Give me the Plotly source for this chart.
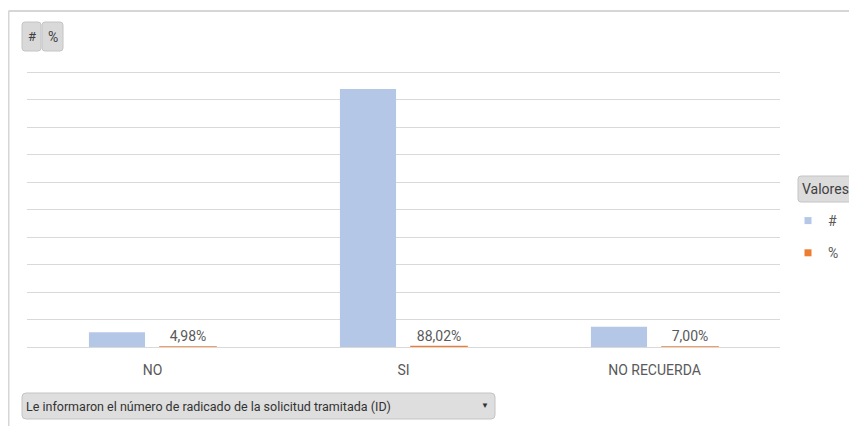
import plotly.graph_objects as go

# ---- data ----
categories = ["NO", "SI", "NO RECUERDA"]
counts = [27, 469, 37]                 # series "#"
shares = [0.0498, 0.8802, 0.0700]      # series "%"
series_names = ["#", "%"]
y_max = 500
y_step = 50
x_title_button = "Le informaron el número de radicado de la solicitud tramitada (ID)"
legend_title = "Valores"

# ---- geometry (page pixel -> paper); page has an 8px body margin ----
OFF = 8
W, H = 849, 418
EXTRA = 4  # headroom above the top gridline so it is drawn
ML, MT = 27 - OFF, 72 - OFF - EXTRA
MR = W - (780 - OFF)
MB = H - (347 - OFF)
PW, PH = W - ML - MR, H - MT - MB
y_top = y_max * PH / (PH - EXTRA)


def px(x):
    return (x - OFF - ML) / PW


def py(y):
    return (H - MB - (y - OFF)) / PH


def rrect(x0, y0, x1, y1, r=3):
    pts = [
        f"M{px(x0 + r)},{py(y0)}",
        f"L{px(x1 - r)},{py(y0)}",
        f"Q{px(x1)},{py(y0)} {px(x1)},{py(y0 + r)}",
        f"L{px(x1)},{py(y1 - r)}",
        f"Q{px(x1)},{py(y1)} {px(x1 - r)},{py(y1)}",
        f"L{px(x0 + r)},{py(y1)}",
        f"Q{px(x0)},{py(y1)} {px(x0)},{py(y1 - r)}",
        f"L{px(x0)},{py(y0 + r)}",
        f"Q{px(x0)},{py(y0)} {px(x0 + r)},{py(y0)}",
        "Z",
    ]
    return " ".join(pts)


BLUE = "#B4C7E7"
ORANGE = "#ED7D31"
TXT = "#595959"
FONT = "Roboto"

fig = go.Figure()
fig.add_trace(go.Bar(
    x=categories, y=counts, name=series_names[0], marker=dict(color=BLUE, line=dict(width=0)),
    showlegend=False,
))
fig.add_trace(go.Bar(
    x=categories, y=shares, name=series_names[1],
    marker=dict(color=ORANGE, line=dict(color=ORANGE, width=1.5)),
    text=[f"{v * 100:.2f}".replace(".", ",") + "%" for v in shares],
    textposition="outside", textfont=dict(color=TXT, size=14, family=FONT),
    cliponaxis=False, showlegend=False,
))
# legend entries (small squares)
fig.add_trace(go.Scatter(x=[None], y=[None], mode="markers", name=series_names[0],
                         marker=dict(symbol="square", size=7, color=BLUE), legendgroup="a"))
fig.add_trace(go.Scatter(x=[None], y=[None], mode="markers", name=series_names[1],
                         marker=dict(symbol="square", size=7, color=ORANGE), legendgroup="b"))

shapes = []
# outer frame (top and left edges)
shapes.append(dict(type="line", xref="paper", yref="paper", x0=px(8.5), x1=px(857), y0=py(11), y1=py(11),
                   line=dict(color="#d6d6d6", width=2)))
shapes.append(dict(type="line", xref="paper", yref="paper", x0=px(8.5), x1=px(8.5), y0=py(11), y1=py(426),
                   line=dict(color="#d6d6d6", width=2)))
# field buttons
for (x0, x1) in [(22, 41), (42, 63)]:
    shapes.append(dict(type="path", xref="paper", yref="paper", path=rrect(x0, 22, x1, 51, 3),
                       fillcolor="#d9d9d9", line=dict(color="#c4c4c4", width=1)))
shapes.append(dict(type="path", xref="paper", yref="paper", path=rrect(798, 176, 853, 202, 3),
                   fillcolor="#dcdcdc", line=dict(color="#c4c4c4", width=1)))
shapes.append(dict(type="path", xref="paper", yref="paper", path=rrect(22, 393, 495, 419, 4),
                   fillcolor="#dedede", line=dict(color="#c4c4c4", width=1)))


def ann(text, x, y, size, color="#404040", xanchor="center"):
    return dict(text=text, x=px(x), y=py(y), xref="paper", yref="paper", showarrow=False,
                xanchor=xanchor, yanchor="middle", font=dict(size=size, color=color, family=FONT))


annotations = [
    ann("#", 31.5, 37, 13),
    ann("%", 52.5, 37, 14),
    ann(legend_title, 825.5, 189, 14),
    ann(x_title_button, 24, 406, 12.5, "#333333", "left"),
    ann("▼", 485, 405, 8, "#333333"),
]

fig.update_layout(
    width=W, height=H,
    margin=dict(l=ML, r=MR, t=MT, b=MB),
    paper_bgcolor="white", plot_bgcolor="white",
    barmode="group", bargap=0.434, bargroupgap=0.21,
    font=dict(family=FONT, color=TXT, size=14),
    xaxis=dict(showline=False, ticks="", tickfont=dict(size=14, color=TXT), ticklabelstandoff=13,
               showgrid=False),
    yaxis=dict(range=[0, y_top], dtick=y_step, showticklabels=False, showgrid=True,
               gridcolor="#d9d9d9", gridwidth=1, zeroline=True, zerolinecolor="#d9d9d9",
               zerolinewidth=1, showline=False, ticks=""),
    legend=dict(x=px(788), y=py(205), xanchor="left", yanchor="top", itemwidth=30,
                tracegroupgap=11, font=dict(size=14, color=TXT, family=FONT),
                bgcolor="rgba(0,0,0,0)"),
    shapes=shapes, annotations=annotations,
)

fig.write_html("out.html")
